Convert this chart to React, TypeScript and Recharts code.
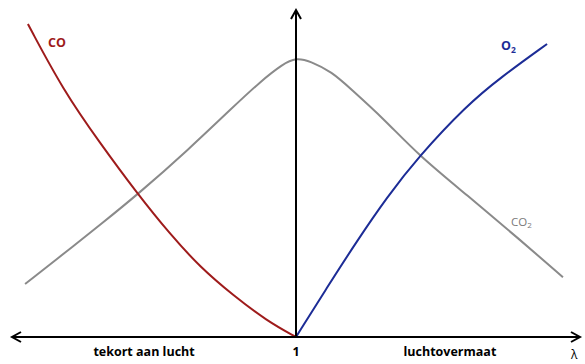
import React from "react";
import { LineChart, Line, XAxis, YAxis, ReferenceLine } from "recharts";

// lambda on x (1 = stoichiometric), relative concentration on y
const coData = [
  { x: 0.056, y: 95.7 },
  { x: 0.18, y: 75.5 },
  { x: 0.31, y: 59.3 },
  { x: 0.44, y: 44.0 },
  { x: 0.556, y: 31.5 },
  { x: 0.662, y: 21.4 },
  { x: 0.778, y: 12.8 },
  { x: 0.898, y: 4.9 },
  { x: 1.0, y: 0 },
];

const co2Data = [
  { x: 0.046, y: 16.2 },
  { x: 0.229, y: 28.7 },
  { x: 0.31, y: 34.3 },
  { x: 0.444, y: 43.7 },
  { x: 0.62, y: 57.2 },
  { x: 0.778, y: 70.3 },
  { x: 0.873, y: 78.0 },
  { x: 0.954, y: 83.5 },
  { x: 1.0, y: 85.4 },
  { x: 1.05, y: 84.4 },
  { x: 1.127, y: 81.0 },
  { x: 1.19, y: 76.1 },
  { x: 1.313, y: 66.4 },
  { x: 1.43, y: 55.7 },
  { x: 1.602, y: 43.4 },
  { x: 1.789, y: 29.7 },
  { x: 1.94, y: 18.3 },
];

const o2Data = [
  { x: 1.0, y: 0 },
  { x: 1.109, y: 15.1 },
  { x: 1.215, y: 29.4 },
  { x: 1.32, y: 42.7 },
  { x: 1.43, y: 55.0 },
  { x: 1.602, y: 70.9 },
  { x: 1.718, y: 79.2 },
  { x: 1.884, y: 89.6 },
];

const bottomTicks = [0.465, 1, 1.542];
const bottomLabels: Record<string, string> = {
  "0.465": "tekort aan lucht",
  "1": "1",
  "1.542": "luchtovermaat",
};

const FONT = "'Open Sans', Lato, sans-serif";

const arrowHead = (tx: number, ty: number, dx: number, dy: number) => {
  // dx, dy: unit direction of the arrow
  const len = 9;
  const w = 5;
  const bx = tx - dx * len;
  const by = ty - dy * len;
  return (
    <polyline
      points={`${bx - dy * w},${by + dx * w} ${tx},${ty} ${bx + dy * w},${by - dx * w}`}
      fill="none"
      stroke="#000"
      strokeWidth={2}
    />
  );
};

const HorizontalArrow = (props: any) => {
  const { x1, y1, x2, y2 } = props;
  return (
    <g>
      <line x1={x1} y1={y1} x2={x2} y2={y2} stroke="#000" strokeWidth={2} />
      {arrowHead(x1, y1, -1, 0)}
      {arrowHead(x2, y2, 1, 0)}
    </g>
  );
};

const VerticalArrow = (props: any) => {
  const { x1, y1, x2, y2 } = props;
  const top = Math.min(y1, y2);
  const bottom = Math.max(y1, y2);
  return (
    <g>
      <line x1={x1} y1={bottom} x2={x2} y2={top} stroke="#000" strokeWidth={2} />
      {arrowHead(x1, top, 0, -1)}
    </g>
  );
};

const App = () => {
  return (
    <div style={{ position: "absolute", left: 0, top: 0, background: "#fff" }}>
      <LineChart
        width={585}
        height={364}
        margin={{ top: 10, right: 5, bottom: 0, left: 12 }}
      >
        <XAxis
          type="number"
          dataKey="x"
          domain={[0, 2]}
          ticks={bottomTicks}
          tickFormatter={(v) => bottomLabels[String(v)] ?? ""}
          axisLine={false}
          tickLine={false}
          tickMargin={4}
          height={27}
          interval={0}
          tick={{ fill: "#000", fontSize: 12.5, fontWeight: 700, fontFamily: FONT }}
          allowDataOverflow
        />
        <YAxis type="number" domain={[0, 100]} hide allowDataOverflow />
        <Line
          data={co2Data}
          dataKey="y"
          type="basis"
          stroke="#8a8a8a"
          strokeWidth={2}
          dot={false}
          isAnimationActive={false}
        />
        <Line
          data={coData}
          dataKey="y"
          type="basis"
          stroke="#9e1b1b"
          strokeWidth={2}
          dot={false}
          isAnimationActive={false}
        />
        <Line
          data={o2Data}
          dataKey="y"
          type="basis"
          stroke="#1c2c96"
          strokeWidth={2}
          dot={false}
          isAnimationActive={false}
        />
        <ReferenceLine
          segment={[
            { x: 0, y: 0 },
            { x: 2, y: 0 },
          ]}
          ifOverflow="visible"
          shape={HorizontalArrow}
        />
        <ReferenceLine
          segment={[
            { x: 1, y: 0 },
            { x: 1, y: 100 },
          ]}
          ifOverflow="visible"
          shape={VerticalArrow}
        />
        <text x={48} y={47} fill="#9e1b1b" fontSize={12.5} fontWeight={700} fontFamily={FONT}>
          CO
        </text>
        <text x={501} y={50} fill="#1c2c96" fontSize={12.5} fontWeight={700} fontFamily={FONT}>
          O
          <tspan fontSize={8.5} dy={3}>2</tspan>
        </text>
        <text x={511} y={226} fill="#7a7a7a" fontSize={11.5} fontFamily={FONT}>
          CO
          <tspan fontSize={8} dy={2}>2</tspan>
        </text>
        <text x={571} y={359} fill="#000" fontSize={12} fontFamily={FONT}>
          λ
        </text>
      </LineChart>
    </div>
  );
};

export default App;
